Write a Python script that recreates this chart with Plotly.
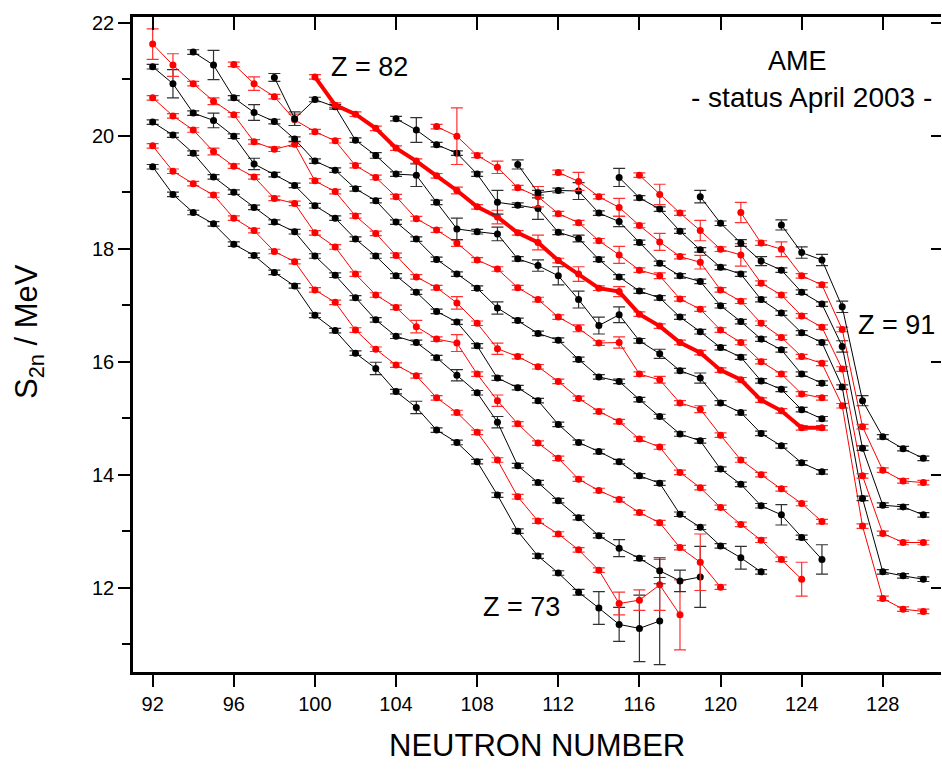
import plotly.graph_objects as go

# ---------------- data ----------------
n_Z73 = [92, 93, 94, 95, 96, 97, 98, 99, 100, 101, 102, 103, 104, 105, 106, 107, 108, 109, 110, 111, 112, 113, 114, 115, 116, 117]
s_Z73 = [19.45, 18.96, 18.64, 18.44, 18.08, 17.88, 17.58, 17.34, 16.82, 16.55, 16.15, 15.88, 15.47, 15.19, 14.79, 14.57, 14.23, 13.64, 13.00, 12.56, 12.26, 11.92, 11.64, 11.35, 11.28, 11.41]
e_Z73 = {103: 0.11, 105: 0.11, 113: 0.05, 114: 0.29, 115: 0.30, 116: 0.59, 117: 0.77}

n_Z74 = [92, 93, 94, 95, 96, 97, 98, 99, 100, 101, 102, 103, 104, 105, 106, 107, 108, 109, 110, 111, 112, 113, 114, 115, 116, 117, 118]
s_Z74 = [19.82, 19.37, 19.15, 18.95, 18.54, 18.32, 17.95, 17.77, 17.27, 17.05, 16.56, 16.22, 15.94, 15.75, 15.36, 15.10, 14.75, 14.26, 13.61, 13.18, 12.95, 12.67, 12.31, 11.72, 11.78, 12.05, 11.52]
e_Z74 = {115: 0.20, 116: 0.18, 117: 0.45, 118: 0.62}

n_Z75 = [92, 93, 94, 95, 96, 97, 98, 99, 100, 101, 102, 103, 104, 105, 106, 107, 108, 109, 110, 111, 112, 113, 114, 115, 116, 117, 118, 119]
s_Z75 = [20.24, 20.01, 19.69, 19.27, 19.00, 18.73, 18.47, 18.30, 17.87, 17.53, 17.13, 16.74, 16.45, 16.34, 16.07, 15.76, 15.45, 14.93, 14.16, 13.86, 13.54, 13.24, 12.92, 12.70, 12.52, 12.30, 12.12, 12.19]
e_Z75 = {107: 0.10, 109: 0.10, 115: 0.15, 117: 0.23, 118: 0.19, 119: 0.54}

n_Z76 = [92, 93, 94, 95, 96, 97, 98, 99, 100, 101, 102, 103, 104, 105, 106, 107, 108, 109, 110, 111, 112, 113, 114, 115, 116, 117, 118, 119, 120]
s_Z76 = [20.67, 20.35, 20.10, 19.72, 19.46, 19.27, 18.89, 18.80, 18.28, 18.03, 17.55, 17.18, 16.96, 16.62, 16.40, 16.33, 15.78, 15.31, 14.90, 14.56, 14.29, 13.92, 13.72, 13.56, 13.33, 13.15, 12.71, 12.45, 12.01]
e_Z76 = {95: 0.06, 105: 0.11, 107: 0.15, 109: 0.10, 119: 0.50}

n_Z77 = [92, 93, 94, 95, 96, 97, 98, 99, 100, 101, 102, 103, 104, 105, 106, 107, 108, 109, 110, 111, 112, 113, 114, 115, 116, 117, 118, 119, 120, 121, 122]
s_Z77 = [21.22, 20.92, 20.40, 20.27, 19.99, 19.50, 19.31, 19.12, 18.76, 18.54, 18.17, 17.87, 17.52, 17.23, 16.89, 16.70, 16.28, 15.71, 15.54, 15.31, 14.89, 14.57, 14.41, 14.23, 13.98, 13.85, 13.30, 13.07, 12.74, 12.53, 12.28]
e_Z77 = {93: 0.25, 95: 0.13, 97: 0.10, 121: 0.20}

n_Z78 = [92, 93, 94, 95, 96, 97, 98, 99, 100, 101, 102, 103, 104, 105, 106, 107, 108, 109, 110, 111, 112, 113, 114, 115, 116, 117, 118, 119, 120, 121, 122, 123, 124]
s_Z78 = [21.62, 21.25, 20.92, 20.61, 20.37, 19.89, 19.76, 19.85, 19.20, 19.01, 18.58, 18.27, 17.88, 17.50, 17.31, 17.04, 16.68, 16.23, 16.09, 15.91, 15.65, 15.35, 15.12, 14.94, 14.63, 14.49, 14.04, 13.77, 13.42, 13.12, 12.84, 12.50, 12.15]
e_Z78 = {92: 0.27, 93: 0.20, 95: 0.06, 107: 0.11, 109: 0.10, 124: 0.30}

n_Z79 = [94, 95, 96, 97, 98, 99, 100, 101, 102, 103, 104, 105, 106, 107, 108, 109, 110, 111, 112, 113, 114, 115, 116, 117, 118, 119, 120, 121, 122, 123, 124, 125]
s_Z79 = [21.48, 21.25, 20.67, 20.41, 20.25, 19.94, 19.55, 19.39, 19.06, 18.85, 18.47, 18.17, 17.81, 17.55, 17.30, 16.95, 16.73, 16.50, 16.38, 16.04, 15.73, 15.65, 15.33, 15.03, 14.72, 14.60, 14.10, 13.83, 13.45, 13.29, 12.89, 12.50]
e_Z79 = {95: 0.26, 97: 0.14, 109: 0.11, 123: 0.18, 125: 0.26}

n_Z80 = [96, 97, 98, 99, 100, 101, 102, 103, 104, 105, 106, 107, 108, 109, 110, 111, 112, 113, 114, 115, 116, 117, 118, 119, 120, 121, 122, 123, 124, 125]
s_Z80 = [21.26, 20.92, 20.69, 20.28, 20.07, 19.91, 19.47, 19.26, 18.92, 18.53, 18.33, 18.10, 17.80, 17.64, 17.31, 17.10, 16.79, 16.59, 16.33, 16.34, 15.78, 15.68, 15.27, 15.16, 14.70, 14.26, 14.00, 13.75, 13.49, 13.17]
e_Z80 = {97: 0.12, 99: 0.10, 107: 0.06, 113: 0.06, 115: 0.10, 117: 0.06, 119: 0.06}

n_Z81 = [98, 99, 100, 101, 102, 103, 104, 105, 106, 107, 108, 109, 110, 111, 112, 113, 114, 115, 116, 117, 118, 119, 120, 121, 122, 123, 124, 125]
s_Z81 = [21.03, 20.30, 20.64, 20.51, 19.92, 19.65, 19.32, 19.30, 18.82, 18.35, 18.30, 18.26, 17.82, 17.70, 17.52, 17.10, 16.64, 16.83, 16.37, 16.14, 15.84, 15.71, 15.27, 15.10, 14.73, 14.51, 14.21, 14.05]
e_Z81 = {98: 0.07, 99: 0.12, 103: 0.05, 105: 0.20, 107: 0.19, 109: 0.12, 111: 0.10, 112: 0.16, 113: 0.15, 114: 0.15, 115: 0.14, 117: 0.08, 119: 0.09}

n_Z82 = [100, 101, 102, 103, 104, 105, 106, 107, 108, 109, 110, 111, 112, 113, 114, 115, 116, 117, 118, 119, 120, 121, 122, 123, 124, 125]
s_Z82 = [21.04, 20.54, 20.38, 20.13, 19.78, 19.55, 19.29, 19.03, 18.74, 18.56, 18.28, 18.11, 17.79, 17.55, 17.30, 17.24, 16.84, 16.63, 16.34, 16.16, 15.85, 15.68, 15.32, 15.13, 14.83, 14.83]
e_Z82 = {107: 0.06, 109: 0.12, 111: 0.13, 113: 0.13, 115: 0.09}

n_Z83 = [104, 105, 106, 107, 108, 109, 110, 111, 112, 113, 114, 115, 116, 117, 118, 119, 120, 121, 122, 123, 124, 125]
s_Z83 = [20.30, 20.10, 19.84, 19.69, 19.32, 18.82, 18.77, 18.71, 18.29, 18.18, 17.81, 17.50, 17.25, 17.13, 16.79, 16.53, 16.25, 16.08, 15.66, 15.51, 15.15, 14.99]
e_Z83 = {105: 0.22, 109: 0.21, 111: 0.19, 113: 0.06}

n_Z84 = [106, 107, 108, 109, 110, 111, 112, 113, 114, 115, 116, 117, 118, 119, 120, 121, 122, 123, 124, 125]
s_Z84 = [20.16, 19.99, 19.65, 19.44, 19.08, 18.92, 18.62, 18.46, 18.14, 17.89, 17.62, 17.52, 17.11, 16.93, 16.56, 16.34, 16.00, 15.78, 15.43, 15.36]
e_Z84 = {107: 0.50, 109: 0.11, 111: 0.18, 115: 0.15, 117: 0.05}

n_Z85 = [110, 111, 112, 113, 114, 115, 116, 117, 118, 119, 120, 121, 122, 123, 124, 125]
s_Z85 = [19.49, 18.99, 19.03, 19.02, 18.63, 18.48, 18.11, 17.74, 17.52, 17.42, 16.99, 16.71, 16.40, 16.21, 15.78, 15.62]
e_Z85 = {110: 0.08, 113: 0.15, 115: 0.09}

n_Z86 = [112, 113, 114, 115, 116, 117, 118, 119, 120, 121, 122, 123, 124, 125, 126, 127, 128, 129, 130]
s_Z86 = [19.35, 19.19, 18.92, 18.73, 18.41, 18.12, 17.86, 17.76, 17.27, 17.07, 16.68, 16.43, 16.09, 15.97, 15.22, 13.09, 11.81, 11.62, 11.58]
e_Z86 = {113: 0.16, 115: 0.16, 117: 0.15, 119: 0.12}

n_Z87 = [115, 116, 117, 118, 119, 120, 121, 122, 123, 124, 125, 126, 127, 128, 129, 130]
s_Z87 = [19.26, 18.90, 18.70, 18.31, 17.98, 17.67, 17.55, 17.10, 16.86, 16.51, 16.34, 15.55, 13.58, 12.28, 12.21, 12.15]
e_Z87 = {115: 0.16}

n_Z88 = [116, 117, 118, 119, 120, 121, 122, 123, 124, 125, 126, 127, 128, 129, 130]
s_Z88 = [19.30, 18.96, 18.63, 18.32, 17.99, 17.89, 17.39, 17.18, 16.81, 16.61, 15.87, 13.98, 12.96, 12.80, 12.80]
e_Z88 = {117: 0.18, 119: 0.18, 121: 0.20}

n_Z89 = [119, 120, 121, 122, 123, 124, 125, 126, 127, 128, 129, 130]
s_Z89 = [18.92, 18.45, 18.10, 17.78, 17.62, 17.23, 17.02, 16.27, 14.47, 13.46, 13.43, 13.29]
e_Z89 = {119: 0.11, 121: 0.06, 122: 0.08, 126: 0.10}

n_Z90 = [121, 122, 123, 124, 125, 126, 127, 128, 129, 130]
s_Z90 = [18.64, 18.10, 17.99, 17.52, 17.36, 16.57, 14.85, 14.08, 13.89, 13.86]
e_Z90 = {121: 0.18, 123: 0.13}

n_Z91 = [123, 124, 125, 126, 127, 128, 129, 130]
s_Z91 = [18.42, 17.93, 17.80, 16.97, 15.31, 14.67, 14.46, 14.29]
e_Z91 = {123: 0.09, 124: 0.10, 125: 0.10, 126: 0.10, 127: 0.09}

small_err = 0.04

x_ticks = [92, 96, 100, 104, 108, 112, 116, 120, 124, 128]
y_ticks = [12, 14, 16, 18, 20, 22]
y_minor = [11, 13, 15, 17, 19, 21]

chains = [
    (73, n_Z73, s_Z73, e_Z73), (74, n_Z74, s_Z74, e_Z74), (75, n_Z75, s_Z75, e_Z75),
    (76, n_Z76, s_Z76, e_Z76), (77, n_Z77, s_Z77, e_Z77), (78, n_Z78, s_Z78, e_Z78),
    (79, n_Z79, s_Z79, e_Z79), (80, n_Z80, s_Z80, e_Z80), (81, n_Z81, s_Z81, e_Z81),
    (82, n_Z82, s_Z82, e_Z82), (83, n_Z83, s_Z83, e_Z83), (84, n_Z84, s_Z84, e_Z84),
    (85, n_Z85, s_Z85, e_Z85), (86, n_Z86, s_Z86, e_Z86), (87, n_Z87, s_Z87, e_Z87),
    (88, n_Z88, s_Z88, e_Z88), (89, n_Z89, s_Z89, e_Z89), (90, n_Z90, s_Z90, e_Z90),
    (91, n_Z91, s_Z91, e_Z91),
]

FONT = "Liberation Sans, Arial, Helvetica, sans-serif"
RED = "#ff0000"
BLACK = "#000000"

fig = go.Figure()
for z, ns, ss, errs in chains:
    col = RED if z % 2 == 0 else BLACK
    ecol = "#ff3030" if z % 2 == 0 else "#303030"
    err = [errs.get(n, small_err) for n in ns]
    fig.add_trace(go.Scatter(
        x=ns, y=ss, mode="lines+markers", name=f"Z = {z}",
        line=dict(color=col, width=4 if z == 82 else 1),
        marker=dict(color=col, size=7, line=dict(width=0)),
        error_y=dict(type="data", array=err, visible=True, color=ecol, thickness=1.2, width=6),
        showlegend=False,
    ))

# invisible helper traces for mirrored axes (top / right)
fig.add_trace(go.Scatter(x=[100], y=[15], xaxis="x2", yaxis="y", mode="markers",
                         marker=dict(opacity=0), showlegend=False, hoverinfo="skip"))
fig.add_trace(go.Scatter(x=[100], y=[15], xaxis="x", yaxis="y2", mode="markers",
                         marker=dict(opacity=0), showlegend=False, hoverinfo="skip"))

XR = [91.03, 130.87]
YR = [10.508, 22.10]

fig.update_layout(
    width=942, height=770,
    margin=dict(l=133, r=1, t=17, b=98),
    paper_bgcolor="white", plot_bgcolor="white",
    font=dict(family=FONT, color="black", size=20),
    xaxis=dict(range=XR, tickmode="array", tickvals=x_ticks, ticks="outside", ticklen=12,
               tickwidth=2, tickcolor="black", showline=True, linewidth=2.5, linecolor="black",
               mirror=True, showgrid=False, zeroline=False,
               tickfont=dict(family=FONT, size=20, color="black")),
    xaxis2=dict(range=XR, overlaying="x", side="top", anchor="y", tickmode="array",
                tickvals=x_ticks, ticks="inside", ticklen=13, tickwidth=2, tickcolor="black",
                showticklabels=False, showline=False, showgrid=False, zeroline=False),
    yaxis=dict(range=YR, tickmode="array", tickvals=y_ticks, ticks="outside", ticklen=12,
               tickwidth=2, tickcolor="black", showline=True, linewidth=2.5, linecolor="black",
               mirror=False, showgrid=False, zeroline=False,
               minor=dict(tickmode="array", tickvals=y_minor, ticks="outside",
                          ticklen=8, tickwidth=2, tickcolor="black", showgrid=False),
               tickfont=dict(family=FONT, size=20, color="black")),
    yaxis2=dict(range=YR, overlaying="y", side="right", anchor="x", tickmode="array",
                tickvals=y_ticks, ticks="inside", ticklen=10, tickwidth=2, tickcolor="black",
                showticklabels=False, showline=False, showgrid=False, zeroline=False),
    annotations=[
        dict(x=102.7, y=21.22, xref="x", yref="y", text="Z = 82", showarrow=False,
             font=dict(family=FONT, size=27, color="black"), xanchor="center", yanchor="middle"),
        dict(x=123.8, y=21.32, xref="x", yref="y", text="AME", showarrow=False,
             font=dict(family=FONT, size=27, color="black"), xanchor="center", yanchor="middle"),
        dict(x=124.5, y=20.67, xref="x", yref="y", text="- status April 2003 -", showarrow=False,
             font=dict(family=FONT, size=28, color="black"), xanchor="center", yanchor="middle"),
        dict(x=128.7, y=16.65, xref="x", yref="y", text="Z = 91", showarrow=False,
             font=dict(family=FONT, size=27, color="black"), xanchor="center", yanchor="middle"),
        dict(x=110.2, y=11.66, xref="x", yref="y", text="Z = 73", showarrow=False,
             font=dict(family=FONT, size=27, color="black"), xanchor="center", yanchor="middle"),
        dict(x=0.5, y=-0.112, xref="paper", yref="paper", text="NEUTRON NUMBER", showarrow=False,
             font=dict(family=FONT, size=31, color="black"), xanchor="center", yanchor="middle"),
        dict(x=-0.128, y=0.52, xref="paper", yref="paper", text="S<sub>2n</sub> / MeV",
             showarrow=False, textangle=-90,
             font=dict(family=FONT, size=31, color="black"), xanchor="center", yanchor="middle"),
    ],
)

fig.write_html("out.html")
